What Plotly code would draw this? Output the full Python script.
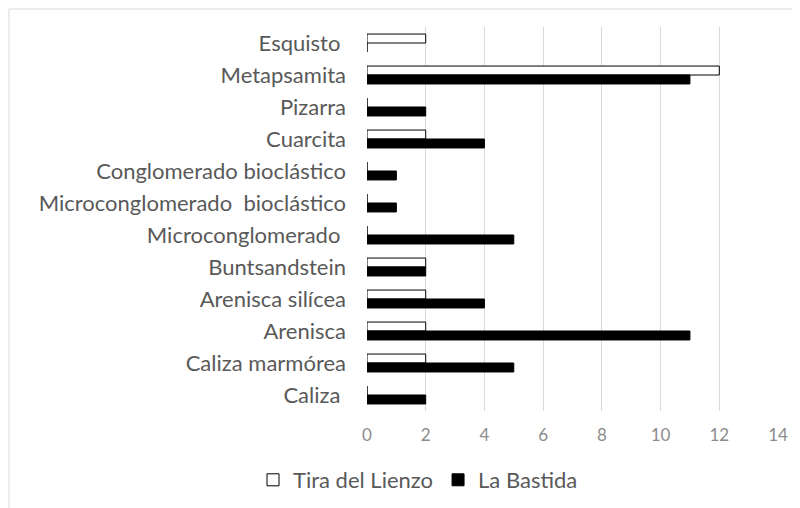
import plotly.graph_objects as go

# rock types, top to bottom as in the chart
rocas = [
    "Esquisto\u00a0",
    "Metapsamita",
    "Pizarra",
    "Cuarcita",
    "Conglomerado bioclástico",
    "Microconglomerado\u00a0 bioclástico",
    "Microconglomerado\u00a0",
    "Buntsandstein",
    "Arenisca silícea",
    "Arenisca",
    "Caliza marmórea",
    "Caliza\u00a0",
]
tira_del_lienzo = [2, 12, 0, 2, 0, 0, 0, 2, 2, 2, 2, 0]
la_bastida = [0, 11, 2, 4, 1, 1, 5, 2, 4, 11, 5, 2]
x_ticks = [0, 2, 4, 6, 8, 10, 12, 14]

# page body has an 8px margin, so the figure is 792x500 inside the window
OFF = 8
W, H = 800 - OFF, 508 - OFF
L, R, T, B = 367 - OFF, 22, 27 - OFF, 97
pw, ph = W - L - R, H - T - B

label_font = dict(family="Lato, 'Open Sans', sans-serif", size=22, color="#595959")

fig = go.Figure()
fig.add_trace(go.Bar(
    y=rocas, x=tira_del_lienzo, orientation="h", name="Tira del Lienzo",
    marker=dict(color="white", line=dict(color="black", width=1)),
))
fig.add_trace(go.Bar(
    y=rocas, x=la_bastida, orientation="h", name="La Bastida",
    marker=dict(color="black", line=dict(color="black", width=1)),
))


# window pixel -> paper coordinate
def px_x(v):
    return (v - OFF - L) / pw


def px_y(v):
    return (H - B - (v - OFF)) / ph


# outer chart border (Excel chart area)
fig.add_shape(type="rect", xref="paper", yref="paper",
              x0=px_x(9), x1=px_x(798), y0=px_y(520), y1=px_y(9),
              line=dict(color="#d9d9d9", width=1), fillcolor="rgba(0,0,0,0)", layer="below")

fig.update_layout(
    width=W, height=H,
    margin=dict(l=L, r=R, t=T, b=B, autoexpand=False),
    plot_bgcolor="white", paper_bgcolor="white",
    barmode="group", bargap=0.44, bargroupgap=0,
    showlegend=True,
    legend=dict(orientation="h", x=px_x(418), y=px_y(480), xanchor="center", yanchor="middle",
                font=dict(family="Lato, 'Open Sans', sans-serif", size=22, color="#595959"),
                itemwidth=30, traceorder="normal"),
    font=label_font,
)
fig.update_xaxes(range=[0, 14], tickvals=x_ticks, showgrid=True, gridcolor="#d9d9d9", gridwidth=1,
                 zeroline=False, showline=False, automargin=False,
                 tickfont=dict(family="Lato, 'Open Sans', sans-serif", size=17, color="#8c8c8c"),
                 ticklabelstandoff=12)
fig.update_yaxes(autorange="reversed", showgrid=False, showline=False, zeroline=False,
                 automargin=False, tickfont=label_font, ticklabelstandoff=20)

fig.write_html("out.html")
